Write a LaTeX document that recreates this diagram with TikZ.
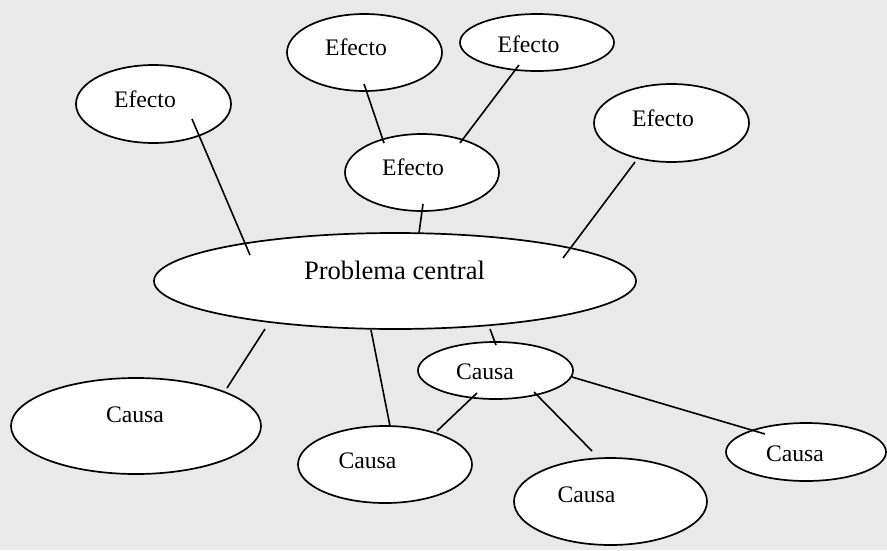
\documentclass[tikz,border=0pt]{standalone}
\usepackage{fontspec}
\setmainfont{Liberation Serif}
\usetikzlibrary{shapes.geometric,calc}
\definecolor{bgcol}{RGB}{233,233,233}
\tikzset{
  oval/.style={ellipse, draw=black, fill=white, line width=1.7pt, inner sep=0pt},
  lbl/.style={anchor=base, inner sep=0pt, font=\fontsize{23.7}{28}\selectfont},
  biglbl/.style={anchor=base, inner sep=0pt, font=\fontsize{26.6}{32}\selectfont},
  link/.style={draw=black, line width=1.6pt}
}
\begin{document}
\begin{tikzpicture}[x=1pt,y=-1pt]
\fill[bgcol] (0,0) rectangle (887,550);
\useasboundingbox (0,0) rectangle (887,550);
% ellipses
\node[oval, minimum width=155pt, minimum height=78pt] (e1) at (153.5,104) {};
\node[oval, minimum width=155pt, minimum height=77pt] (e2) at (364.5,52.5) {};
\node[oval, minimum width=154pt, minimum height=57pt] (e3) at (537,42.5) {};
\node[oval, minimum width=154pt, minimum height=77pt] (ec) at (422,172.5) {};
\node[oval, minimum width=155pt, minimum height=78pt] (e4) at (671.5,123) {};
\node[oval, minimum width=482pt, minimum height=96pt] (p) at (395,281) {};
\node[oval, minimum width=250pt, minimum height=96pt] (c1) at (136,426) {};
\node[oval, minimum width=174pt, minimum height=77pt] (c2) at (385,464.5) {};
\node[oval, minimum width=155pt, minimum height=57pt] (c3) at (495.5,370.5) {};
\node[oval, minimum width=193pt, minimum height=87pt] (c4) at (610.5,501.5) {};
\node[oval, minimum width=160pt, minimum height=58pt] (c5) at (806,452) {};
% connector ends
\coordinate (l1a) at ($(e1)+(38.5,15)$);   \coordinate (l1b) at ($(p)+(-145,-26)$);
\coordinate (l2a) at ($(e2)+(-0.5,31.5)$); \coordinate (l2b) at ($(ec)+(-38,-29.5)$);
\coordinate (l3a) at ($(e3)+(-18,22.5)$);  \coordinate (l3b) at ($(ec)+(38,-29.5)$);
\coordinate (l4a) at ($(ec)+(1,31.5)$);    \coordinate (l4b) at ($(p)+(24,-48)$);
\coordinate (l5a) at ($(e4)+(-36.5,39)$);  \coordinate (l5b) at ($(p)+(168,-23)$);
\coordinate (l6a) at ($(p)+(-130,48)$);    \coordinate (l6b) at ($(c1)+(91,-38)$);
\coordinate (l7a) at ($(p)+(-24,49)$);     \coordinate (l7b) at ($(c2)+(5,-38.5)$);
\coordinate (l8a) at ($(p)+(95,48)$);      \coordinate (l8b) at ($(c3)+(0.5,-25.5)$);
\coordinate (l9a) at ($(c3)+(-18.5,22.5)$); \coordinate (l9b) at ($(c2)+(52,-33.5)$);
\coordinate (l10a) at ($(c3)+(38.5,21.5)$); \coordinate (l10b) at ($(c4)+(-18.5,-50.5)$);
\coordinate (l11a) at ($(c3)+(76.5,6.5)$);  \coordinate (l11b) at ($(c5)+(-41,-18)$);
% connectors
\draw[link] (l1a) -- (l1b);
\draw[link] (l2a) -- (l2b);
\draw[link] (l3a) -- (l3b);
\draw[link] (l4a) -- (l4b);
\draw[link] (l5a) -- (l5b);
\draw[link] (l6a) -- (l6b);
\draw[link] (l7a) -- (l7b);
\draw[link] (l8a) -- (l8b);
\draw[link] (l9a) -- (l9b);
\draw[link] (l10a) -- (l10b);
\draw[link] (l11a) -- (l11b);
% labels
\node[lbl] (te1) at (145,107) {Efecto};
\node[lbl] (te2) at (356,55) {Efecto};
\node[lbl] (te3) at (528.5,52) {Efecto};
\node[lbl] (tec) at (413,175) {Efecto};
\node[lbl] (te4) at (663,126) {Efecto};
\node[biglbl] (tp) at (394.5,279) {Problema central};
\node[lbl] (tc1) at (135,422) {Causa};
\node[lbl] (tc2) at (367.5,468) {Causa};
\node[lbl] (tc3) at (485,379) {Causa};
\node[lbl] (tc4) at (586.5,502) {Causa};
\node[lbl] (tc5) at (795,461) {Causa};
\end{tikzpicture}
\end{document}
